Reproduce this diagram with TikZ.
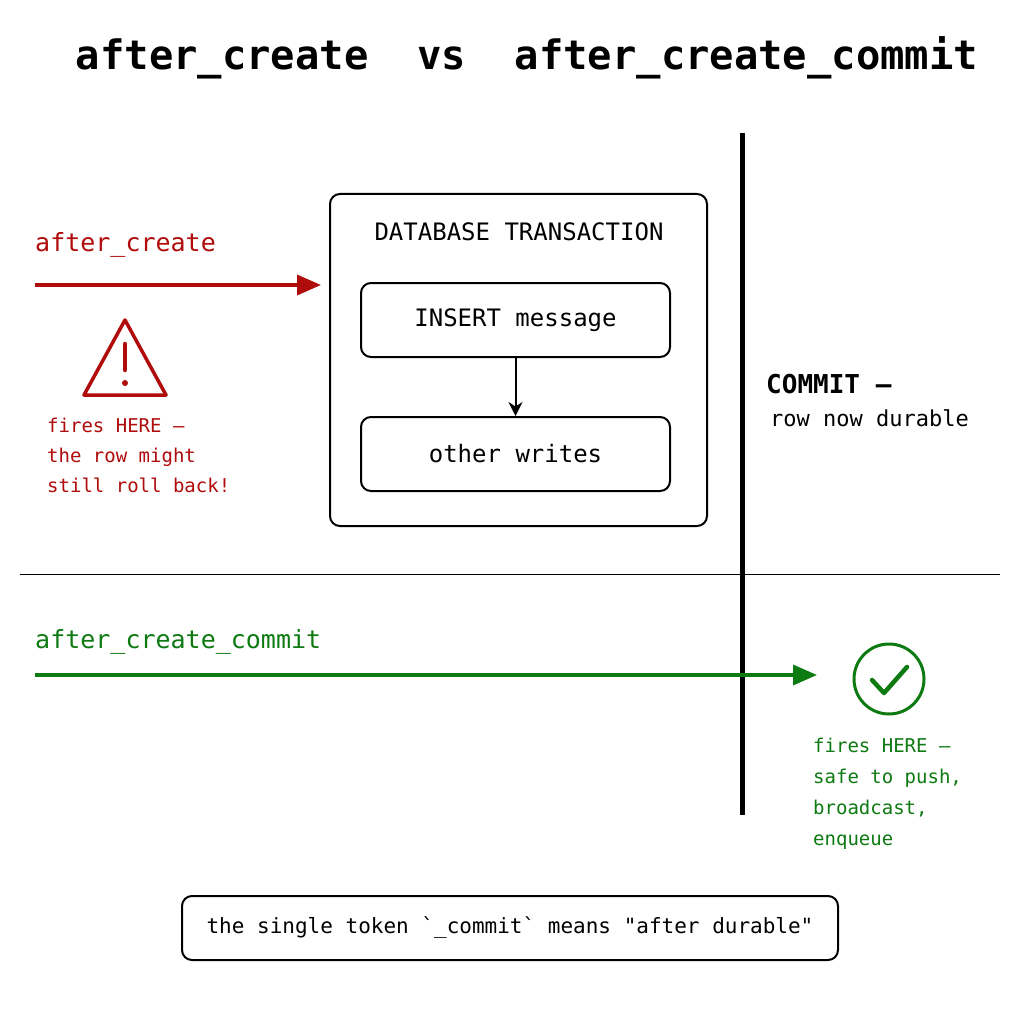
\documentclass[tikz,border=0pt]{standalone}
\usepackage{fontspec}
\setmonofont{DejaVu Sans Mono}
\usetikzlibrary{arrows.meta}
\definecolor{rd}{HTML}{B00C0C}
\definecolor{gn}{HTML}{0E7A12}
\begin{document}
\begin{tikzpicture}[x=1pt,y=-1pt,font=\ttfamily,
 box/.style={draw,line width=2pt,rounded corners=10pt},
 lbl/.style={inner sep=0,anchor=west},
 fs/.style={font=\ttfamily\fontsize{#1}{#1}\selectfont}]
\useasboundingbox[fill=white] (0,0) rectangle (1024,1024);
\node[font=\ttfamily\bfseries\fontsize{40.5}{40.5}\selectfont] (title) at (527,58) {after\_create\ \ vs\ \ after\_create\_commit};
\draw[line width=5pt] (742,133) coordinate (vt) -- (742,815) coordinate (vb);
\draw[line width=0.8pt] (20,574) coordinate (hl) -- (1000,574) coordinate (hr);
\node[box,minimum width=377,minimum height=332] (tx) at (518.5,360) {};
\node[fs=24] (txl) at (519,232) {DATABASE TRANSACTION};
\node[box,minimum width=309,minimum height=74,fs=24] (ins) at (515.5,320) {INSERT message};
\node[box,minimum width=309,minimum height=74,fs=24] (oth) at (515.5,454) {other writes};
\draw[line width=2pt,-{Stealth[length=14pt,width=14pt]}] (ins) -- (oth);
% red
\node[lbl,fs=25,text=rd] (ac) at (35,245) {after\_create};
\coordinate (ra) at (35,285);
\coordinate (rb) at (321,285);
\draw[rd,line width=3.5pt,-{Triangle[length=24pt,width=20pt]}] (ra) -- (rb);
\draw[rd,line width=3.5pt,line join=round] (125,320) -- (166,395) -- (84,395) -- cycle;
\draw[rd,line width=4.5pt,line cap=round] (125,344) -- (125,370);
\fill[rd] (125,383) circle (3pt);
\node[lbl,fs=19,text=rd,align=left,anchor=north west] (rt) at (47,418) {fires HERE —\\[11pt]the row might\\[11pt]still roll back!};
% commit
\node[lbl,font=\ttfamily\bfseries\fontsize{26}{26}\selectfont] (cm) at (766,384) {COMMIT —};
\node[lbl,fs=22] (rn) at (770,418) {row now durable};
% green
\node[lbl,fs=25,text=gn] (acc) at (35,642) {after\_create\_commit};
\coordinate (ga) at (35,675);
\coordinate (gb) at (817,675);
\draw[gn,line width=3.5pt,-{Triangle[length=24pt,width=20pt]}] (ga) -- (gb);
\node[draw=gn,line width=3pt,circle,minimum size=70] (ck) at (889,679) {};
\draw[gn,line width=4.5pt,line cap=round,line join=round] (872,680) -- (884,693) -- (907,667);
\node[lbl,fs=19,text=gn,align=left,anchor=north west] (gt) at (813,738) {fires HERE —\\[12pt]safe to push,\\[12pt]broadcast,\\[12pt]enqueue};
% bottom
\node[box,minimum width=656,minimum height=64,fs=21] (note) at (510,928) {the single token `\_commit` means "after durable"};
\end{tikzpicture}
\end{document}
